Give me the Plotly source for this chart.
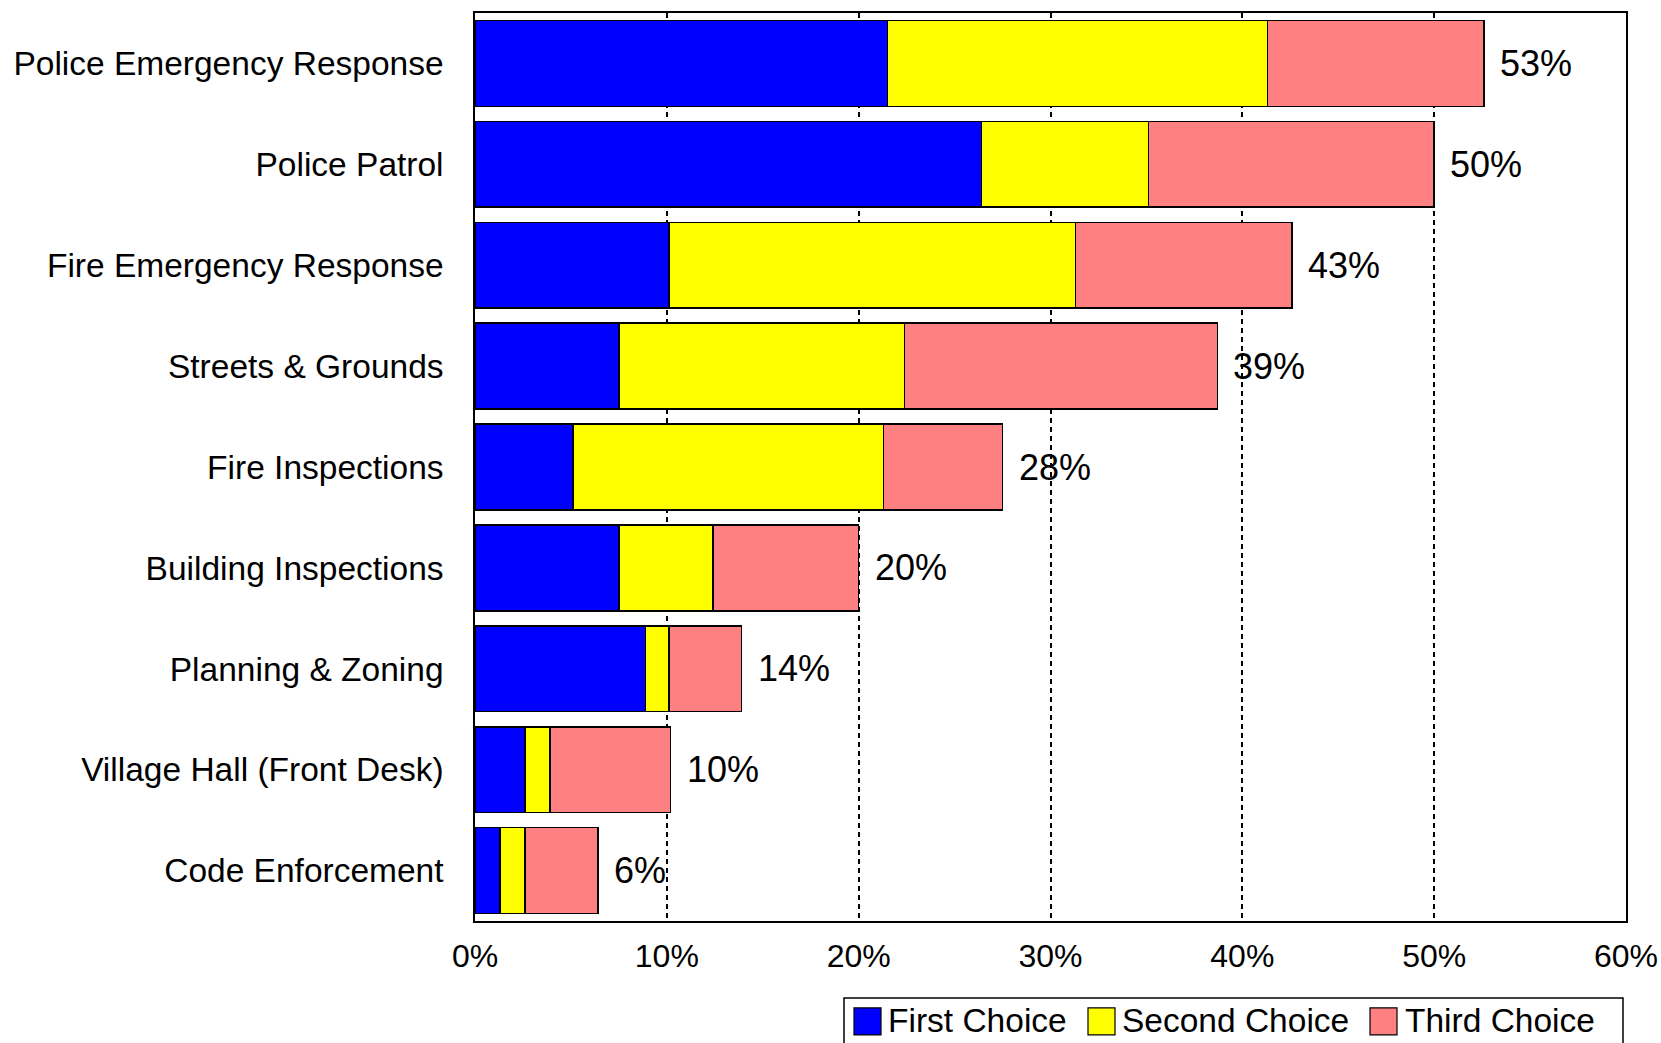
import plotly.graph_objects as go

categories = [
    "Police Emergency Response",
    "Police Patrol",
    "Fire Emergency Response",
    "Streets & Grounds",
    "Fire Inspections",
    "Building Inspections",
    "Planning & Zoning",
    "Village Hall (Front Desk)",
    "Code Enforcement",
]
first_choice = [21.5, 26.4, 10.1, 7.5, 5.1, 7.5, 8.9, 2.6, 1.3]
second_choice = [19.8, 8.7, 21.2, 14.9, 16.2, 4.9, 1.2, 1.3, 1.3]
third_choice = [11.3, 14.9, 11.3, 16.3, 6.2, 7.6, 3.8, 6.3, 3.8]
total_labels = ["53%", "50%", "43%", "39%", "28%", "20%", "14%", "10%", "6%"]
series_names = ["First Choice", "Second Choice", "Third Choice"]
series_colors = ["#0000FF", "#FFFF00", "#FF8080"]
x_tick_vals = [0, 10, 20, 30, 40, 50, 60]
x_tick_labels = ["0%", "10%", "20%", "30%", "40%", "50%", "60%"]

FONT = "Liberation Sans, Arial, sans-serif"
W, H = 1661, 1043
ML, MR, MT, MB = 475, 35, 12.5, 122

fig = go.Figure()
for name, vals, col in zip(series_names, [first_choice, second_choice, third_choice], series_colors):
    fig.add_trace(go.Bar(
        y=categories, x=vals, name=name, orientation="h",
        marker=dict(color=col, line=dict(color="black", width=1.5)),
        showlegend=False,
    ))

totals = [a + b + c for a, b, c in zip(first_choice, second_choice, third_choice)]
for cat, tot, lab in zip(categories, totals, total_labels):
    fig.add_annotation(x=tot, y=cat, text=lab, showarrow=False, xanchor="left",
                       xshift=14, font=dict(size=36, color="black", family=FONT))

# custom legend (box, swatches, texts) placed in paper coordinates
pw = W - ML - MR
ph = H - MT - MB
def px2x(px):
    return (px - ML) / pw
def py2y(py):
    return (H - MB - py) / ph

fig.add_shape(type="rect", xref="paper", yref="paper",
              x0=px2x(844), x1=px2x(1623), y0=py2y(1070), y1=py2y(998),
              line=dict(color="black", width=1.5), fillcolor="white", layer="above")
sw_left = [854, 1088, 1370]
txt_left = [886, 1120, 1403]
for name, col, sx, tx in zip(series_names, series_colors, sw_left, txt_left):
    fig.add_shape(type="rect", xref="paper", yref="paper",
                  x0=px2x(sx), x1=px2x(sx + 27), y0=py2y(1035), y1=py2y(1008),
                  line=dict(color="black", width=1.2), fillcolor=col, layer="above")
    fig.add_annotation(xref="paper", yref="paper", x=px2x(tx), y=py2y(1021),
                       text=name, showarrow=False, xanchor="left", yanchor="middle",
                       font=dict(size=33.5, color="black", family=FONT))

fig.update_layout(
    width=W, height=H, autosize=False,
    barmode="stack", bargap=0.15,
    plot_bgcolor="white", paper_bgcolor="white",
    margin=dict(l=ML, r=MR, t=MT, b=MB, pad=0),
    font=dict(family=FONT, size=32, color="black"),
    showlegend=False,
)
fig.update_xaxes(
    range=[0, 60], tickmode="array", tickvals=x_tick_vals, ticktext=x_tick_labels,
    showgrid=True, gridcolor="black", gridwidth=1.5, griddash="5px,4px",
    zeroline=False, showline=True, mirror=True, linecolor="black", linewidth=1.5,
    ticks="", ticklabelstandoff=6, automargin=False,
    tickfont=dict(size=32, family=FONT, color="black"),
)
fig.update_yaxes(
    categoryorder="array", categoryarray=categories, autorange="reversed",
    showgrid=False, zeroline=False, showline=True, mirror=True,
    linecolor="black", linewidth=1.5, ticks="", ticklabelstandoff=23, automargin=False,
    tickfont=dict(size=33.5, family=FONT, color="black"),
)

fig.write_html("out.html", config={"displayModeBar": False},
               post_script="document.body.style.margin='0';document.body.style.overflow='hidden';")
